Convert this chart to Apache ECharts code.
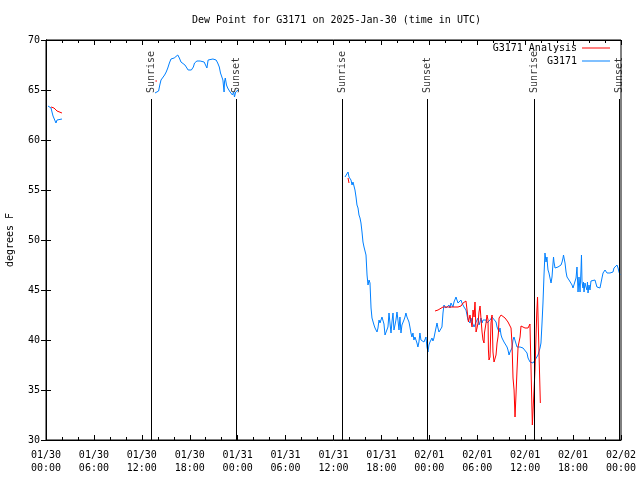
<!DOCTYPE html>
<html><head><meta charset="utf-8">
<script src="https://cdn.jsdelivr.net/npm/echarts@6/dist/echarts.min.js"></script>
<style>html,body{margin:0;padding:0;background:#fff}#c{width:640px;height:480px}</style>
</head><body><div id="c"></div>
<script>
// hours since 2025-01-30 00:00 UTC, dew point (F)
const blueSeg1 = [[0.25,63.4],[0.38,63.3],[0.63,63.2],[0.75,62.8],[0.88,62.4],[1.0,62.6],[1.13,62.2],[1.25,61.7],[1.38,62.0],[1.63,62.1],[2.0,62.1]];
const blueSeg2 = [[13.65,64.7],[13.9,64.6],[14.1,64.9],[14.25,65.5],[14.4,66.0],[14.55,65.8],[14.65,66.2],[14.85,66.5],[15.05,66.8],[15.25,67.2],[15.45,67.7],[15.65,68.1],[15.85,68.0],[16.05,68.2],[16.25,68.3],[16.5,68.5],[16.7,68.2],[16.9,67.8],[17.1,67.7],[17.4,67.5],[17.65,67.3],[17.8,67.0],[18.05,67.2],[18.2,67.0],[18.45,67.3],[18.6,67.7],[18.9,67.9],[19.05,68.0],[19.3,67.9],[19.55,67.9],[19.8,67.8],[20.0,67.7],[20.15,67.2],[20.3,68.0],[20.55,68.2],[20.9,68.1],[21.1,68.2],[21.3,68.0],[21.5,67.7],[21.7,67.3],[21.85,66.7],[22.0,66.5],[22.15,66.0],[22.3,64.8],[22.35,65.8],[22.45,66.2],[22.6,65.5],[22.75,65.2],[22.9,65.3],[23.05,64.8],[23.2,65.0],[23.35,64.5],[23.5,64.8],[23.6,64.3],[23.75,64.8],[23.9,64.7],[24.05,65.0]];
const blueSeg3 = [[37.44,56.3],[37.69,56.2],[37.82,56.8],[37.94,56.3],[38.19,56.0],[38.32,55.5],[38.44,55.8],[38.57,55.9],[38.69,55.0],[38.82,54.3],[38.94,53.5],[39.07,53.2],[39.19,52.5],[39.32,52.2],[39.44,51.7],[39.57,50.8],[39.69,49.8],[39.82,49.3],[39.94,49.3],[40.07,48.5],[40.2,46.5],[40.32,45.5],[40.45,46.0],[40.57,45.7],[40.7,43.2],[40.82,42.2],[40.95,42.0],[41.07,41.5],[41.2,41.2],[41.32,41.0],[41.45,40.8],[41.57,41.2],[41.7,42.0],[41.82,41.7],[41.95,41.8],[42.07,42.3],[42.2,42.1],[42.32,41.6],[42.45,40.5],[42.57,40.6],[42.7,40.7],[42.82,41.3],[42.95,42.7],[43.07,41.7],[43.2,40.7],[43.32,41.8],[43.45,42.7],[43.57,41.0],[43.7,41.5],[43.82,42.0],[43.95,42.8],[44.07,42.0],[44.2,41.0],[44.32,42.3],[44.45,40.7],[44.57,41.5],[44.7,41.7],[44.82,42.0],[44.95,42.3],[45.07,42.7],[45.2,42.3],[45.32,42.2],[45.45,41.8],[45.57,41.3],[45.7,40.7],[45.82,40.3],[45.95,40.7],[46.07,40.0],[46.2,40.3],[46.45,39.7],[46.57,39.3],[46.7,39.8],[46.82,40.7],[46.95,40.0],[47.08,39.8],[47.2,40.0],[47.33,39.8],[47.58,40.3],[47.7,39.3],[47.83,38.8],[47.95,39.5],[48.08,39.8],[48.2,40.0],[48.33,40.2],[48.45,39.9],[48.58,40.2],[48.7,40.7],[48.96,41.7],[49.08,41.2],[49.21,40.8],[49.33,40.8],[49.58,41.3],[49.71,42.7],[49.83,43.5],[50.08,43.2],[50.21,43.0],[50.33,43.3],[50.46,43.5],[50.58,43.2],[50.71,43.7],[50.83,43.5],[50.96,43.3],[51.09,43.8],[51.34,44.3],[51.46,44.0],[51.59,43.7],[51.71,43.5],[51.84,43.8],[51.96,44.0],[52.09,43.7],[52.22,43.5],[52.34,43.3],[52.59,43.0],[52.72,42.5],[52.84,42.0],[52.97,42.2],[53.09,41.7],[53.22,42.2],[53.34,41.8],[53.47,42.0],[53.6,41.3],[53.85,41.8],[53.97,41.7],[54.1,42.2],[54.22,41.5],[54.35,41.8],[54.47,42.2],[54.6,41.7],[54.72,42.0],[54.85,41.8],[55.1,42.0],[55.22,41.7],[55.35,41.8],[55.47,41.7],[55.6,42.0],[55.72,42.2],[55.85,42.3],[55.97,42.5],[56.1,42.3],[56.35,41.8],[56.48,41.3],[56.6,41.2],[56.73,40.8],[56.85,41.2],[56.98,40.5],[57.1,40.2],[57.23,40.3],[57.35,39.8],[57.6,39.7],[57.73,39.3],[57.85,39.0],[57.98,38.5],[58.1,38.8],[58.23,38.7],[58.35,39.2],[58.48,40.0],[58.6,40.3],[58.85,40.2],[58.98,39.3],[59.36,39.3],[59.61,39.3],[59.73,39.2],[59.98,39.0],[60.23,38.7],[60.36,38.2],[60.61,37.8],[60.86,37.7],[60.98,37.7],[61.23,38.0],[61.48,38.2],[61.61,38.5],[61.86,39.2],[61.98,39.7],[62.11,41.7],[62.23,43.7],[62.36,46.5],[62.48,48.7],[62.61,47.8],[62.73,48.3],[62.8,47.5],[62.86,47.0],[62.98,46.7],[63.11,46.2],[63.24,45.7],[63.36,46.3],[63.49,47.7],[63.55,48.3],[63.61,47.8],[63.74,47.2],[63.86,47.3],[63.99,47.2],[64.11,47.3],[64.24,47.2],[64.49,47.5],[64.62,47.8],[64.74,48.2],[64.8,48.5],[64.87,48.2],[64.99,47.7],[65.12,46.8],[65.24,46.3],[65.37,46.2],[65.49,46.0],[65.62,45.8],[65.87,45.5],[65.99,45.2],[66.12,45.3],[66.24,45.3],[66.37,46.2],[66.49,47.3],[66.62,44.8],[66.74,46.3],[66.87,44.8],[66.99,47.0],[67.05,48.5],[67.12,45.8],[67.24,45.2],[67.3,45.8],[67.37,44.8],[67.49,45.7],[67.62,45.3],[67.74,45.0],[67.8,45.8],[67.87,44.7],[67.99,45.5],[68.12,45.0],[68.24,45.9],[68.37,45.8],[68.49,46.0],[68.74,46.0],[68.87,45.8],[68.99,45.3],[69.12,45.2],[69.24,45.5],[69.37,45.2],[69.5,45.4],[69.62,46.2],[69.75,46.7],[69.87,46.7],[70.0,47.0],[70.25,46.7],[70.37,46.8],[70.5,46.5],[70.62,46.7],[70.75,46.7],[71.0,46.8],[71.12,47.2],[71.25,47.3],[71.5,47.5],[71.63,47.2],[71.75,46.8],[71.88,46.5]];

const redSeg1 = [[0.63,63.3],[1.0,63.2],[1.38,62.9],[1.63,62.7],[2.0,62.7]];
const redSeg2 = [[13.7,65.9],[13.9,65.9]];
const redSeg3 = [[37.82,56.2],[37.94,55.7]];
const redSeg4 = [[48.71,42.9],[49.09,43.0],[49.34,43.2],[49.71,43.3],[50.09,43.3],[50.59,43.3],[50.84,43.2],[51.09,43.3],[51.59,43.3],[51.97,43.4],[52.22,43.7],[52.59,43.9],[52.84,44.1],[52.9,41.8],[52.97,41.7],[53.09,42.5],[53.35,41.3],[53.47,43.0],[53.6,42.3],[53.72,43.8],[53.85,40.8],[53.97,41.2],[54.1,41.7],[54.22,42.8],[54.35,43.4],[54.6,40.8],[54.72,40.0],[54.85,39.7],[54.9,40.7],[55.1,41.7],[55.22,42.5],[55.35,42.0],[55.4,39.0],[55.47,38.0],[55.6,38.3],[55.72,41.7],[55.85,42.5],[55.9,41.0],[55.97,38.8],[56.1,37.8],[56.35,38.5],[56.48,39.7],[56.6,40.3],[56.66,40.8],[56.73,42.2],[56.85,42.3],[56.98,42.5],[57.1,42.3],[57.48,42.2],[57.85,41.8],[58.1,41.7],[58.23,41.2],[58.35,39.7],[58.48,36.2],[58.61,35.0],[58.73,32.3],[58.86,34.7],[58.98,37.0],[59.11,39.3],[59.36,40.3],[59.48,41.4],[59.61,41.3],[59.98,41.2],[60.23,41.3],[60.36,41.2],[60.6,41.6],[60.85,41.7],[60.9,31.5],[61.05,34.0],[61.23,37.0],[61.45,42.7],[61.55,44.3],[61.8,44.3],[61.9,33.7]];

const sunTimes = [13.23, 23.79, 37.15, 47.75, 61.15, 71.8];
const sunLabels = ['Sunrise','Sunset','Sunrise','Sunset','Sunrise','Sunset'];
const xTickLabels = ['01/30\n00:00','01/30\n06:00','01/30\n12:00','01/30\n18:00','01/31\n00:00','01/31\n06:00','01/31\n12:00','01/31\n18:00','02/01\n00:00','02/01\n06:00','02/01\n12:00','02/01\n18:00','02/02\n00:00'];

function joinSegs(segs){const out=[];segs.forEach((s,i)=>{if(i)out.push([s[0][0]-0.01,'-']);s.forEach(p=>out.push(p));});return out;}

const FONT = 'DejaVu Sans Mono';
const chart = echarts.init(document.getElementById('c'), null, {renderer:'canvas'});
const tickStyle = {fontFamily:FONT,fontSize:10,color:'#000'};
chart.setOption({
  animation:false,
  backgroundColor:'#fff',
  title:{text:'Dew Point for G3171 on 2025-Jan-30 (time in UTC)',left:187,top:10,textStyle:{fontFamily:FONT,fontSize:10,fontWeight:'normal',color:'#000'}},
  legend:[
    {data:['G3171 Analysis'],orient:'vertical',right:30,top:43,padding:0,align:'right',icon:'rect',itemWidth:28,itemHeight:1,textStyle:{fontFamily:FONT,fontSize:10,color:'#000'}},
    {data:['G3171'],orient:'vertical',right:30,top:56,padding:0,align:'right',icon:'rect',itemWidth:28,itemHeight:1,textStyle:{fontFamily:FONT,fontSize:10,color:'#000'}}
  ],
  grid:{left:46,right:19,top:40,bottom:40,containLabel:false,outerBoundsMode:'none',show:true,borderColor:'#000',borderWidth:1,backgroundColor:'transparent'},
  xAxis:[
    {type:'value',min:0,max:72,interval:6,position:'bottom',
     axisLine:{show:true,lineStyle:{color:'#000'}},
     axisTick:{inside:true,length:5,lineStyle:{color:'#000'}},
     minorTick:{show:true,splitNumber:3,length:3,lineStyle:{color:'#000'}},
     splitLine:{show:false},
     axisLabel:{...tickStyle,margin:9,lineHeight:13,formatter:v=>xTickLabels[Math.round(v/6)]}},
    {type:'value',min:0,max:72,interval:6,position:'top',
     axisLine:{show:true,lineStyle:{color:'#000'}},
     axisTick:{inside:true,length:5,lineStyle:{color:'#000'}},
     minorTick:{show:true,splitNumber:3,length:3,lineStyle:{color:'#000'}},
     splitLine:{show:false},axisLabel:{show:false}}
  ],
  yAxis:[
    {type:'value',min:30,max:70,interval:5,position:'left',name:'degrees F',nameLocation:'middle',nameGap:31,nameRotate:90,
     nameTextStyle:{fontFamily:FONT,fontSize:10,color:'#000'},
     axisLine:{show:true,lineStyle:{color:'#000'}},
     axisTick:{inside:true,length:5,lineStyle:{color:'#000'}},
     splitLine:{show:false},axisLabel:{...tickStyle,margin:6}},
    {type:'value',min:30,max:70,interval:5,position:'right',
     axisLine:{show:true,lineStyle:{color:'#000'}},
     axisTick:{inside:true,length:5,lineStyle:{color:'#000'}},
     splitLine:{show:false},axisLabel:{show:false}}
  ],
  series:[
    {name:'sun',type:'line',data:[],silent:true,
     markLine:{silent:true,symbol:['none','none'],label:{show:false},lineStyle:{color:'#000',width:1,type:'solid'},
       data:sunTimes.map(t=>[{coord:[t,30]},{coord:[t,64.1]}])}},
    {name:'sunLabels',type:'scatter',symbolSize:0,silent:true,
     data:sunTimes.map((t,i)=>({value:[t,64.7],name:sunLabels[i]})),
     label:{show:true,position:'inside',rotate:90,align:'left',verticalAlign:'middle',formatter:p=>p.name,fontFamily:FONT,fontSize:10,color:'#000'}},
    {name:'G3171',type:'line',data:joinSegs([blueSeg1,blueSeg2,blueSeg3]),showSymbol:false,symbol:'none',connectNulls:false,
     lineStyle:{color:'#0080ff',width:1},itemStyle:{color:'#0080ff'},z:3},
    {name:'G3171 Analysis',type:'line',data:joinSegs([redSeg1,redSeg2,redSeg3,redSeg4]),showSymbol:false,symbol:'none',connectNulls:false,
     lineStyle:{color:'#ff0000',width:1},itemStyle:{color:'#ff0000'},z:4}
  ]
});
</script></body></html>
